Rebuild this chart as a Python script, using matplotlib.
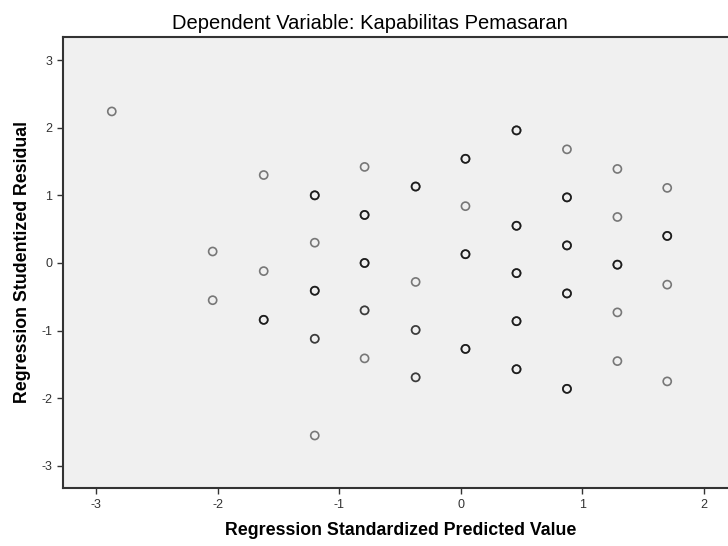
import numpy as np
import matplotlib
matplotlib.use('Agg')
import matplotlib.pyplot as plt

plt.rcParams['font.family'] = ['Liberation Sans', 'DejaVu Sans']
plt.rcParams['axes.unicode_minus'] = False

# Regression Standardized Predicted Value / Studentized Residual
# n = number of cases at the same position (overlapping circles look darker)
pred = [-2.87,
        -2.04, -2.04,
        -1.62, -1.62, -1.62,
        -1.20, -1.20, -1.20, -1.20, -1.20,
        -0.79, -0.79, -0.79, -0.79, -0.79,
        -0.37, -0.37, -0.37, -0.37,
        0.04, 0.04, 0.04, 0.04,
        0.46, 0.46, 0.46, 0.46, 0.46,
        0.875, 0.875, 0.875, 0.875, 0.875,
        1.29, 1.29, 1.29, 1.29, 1.29,
        1.70, 1.70, 1.70, 1.70]
resid = [2.24,
         0.17, -0.55,
         1.30, -0.12, -0.84,
         1.00, 0.30, -0.41, -1.12, -2.55,
         1.42, 0.71, 0.00, -0.70, -1.41,
         1.13, -0.28, -0.99, -1.69,
         1.54, 0.84, 0.13, -1.27,
         1.96, 0.55, -0.15, -0.86, -1.57,
         1.68, 0.97, 0.26, -0.45, -1.86,
         1.39, 0.68, -0.025, -0.73, -1.45,
         1.11, 0.40, -0.32, -1.75]
n_cases = [1,
           1, 1,
           1, 1, 3,
           3, 1, 3, 2, 1,
           1, 3, 3, 2, 1,
           3, 1, 2, 2,
           3, 1, 3, 3,
           3, 3, 3, 3, 3,
           1, 3, 3, 3, 3,
           1, 1, 3, 1, 1,
           1, 3, 1, 1]

xticks = [-3, -2, -1, 0, 1, 2]
yticks = [-3, -2, -1, 0, 1, 2, 3]

x = np.repeat(pred, n_cases)
y = np.repeat(resid, n_cases)

fig = plt.figure(figsize=(7.28, 5.46), dpi=100)
ax = fig.add_axes([0.0861, 0.1057, 1 - 0.0861, 0.9322 - 0.1057])
ax.set_facecolor('#f0f0f0')

ax.scatter(x, y, s=34, facecolors='none', edgecolors=(0, 0, 0, 0.5), linewidths=1.2)

ax.set_xlim(-3.274, 2.20)
ax.set_ylim(-3.33, 3.34)
ax.set_xticks(xticks)
ax.set_yticks(yticks)
ax.tick_params(direction='out', length=4, width=1, colors='#333333', labelsize=9)

for side in ['left', 'top', 'bottom']:
    ax.spines[side].set_color('#333333')
    ax.spines[side].set_linewidth(1.5)
ax.spines['right'].set_visible(False)

ax.set_xlabel('Regression Standardized Predicted Value', fontsize=12.8, fontweight='bold')
ax.xaxis.set_label_coords(0.5085, -0.0946)
ax.xaxis.label.set_va('center')
ax.set_ylabel('Regression Studentized Residual', fontsize=12.8, fontweight='bold')
ax.yaxis.set_label_coords(-0.0597, 0.5025)
ax.yaxis.label.set_va('center')

ax.text(0.462, 1.0177, 'Dependent Variable: Kapabilitas Pemasaran', transform=ax.transAxes,
        ha='center', va='baseline', fontsize=14.5)

fig.savefig('out.png', dpi=100)
